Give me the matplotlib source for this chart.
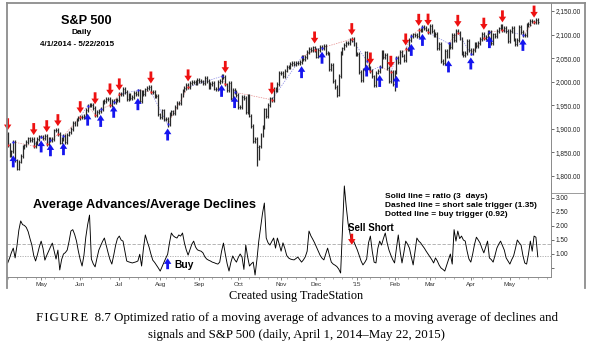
import matplotlib
matplotlib.use('Agg')
import matplotlib.pyplot as plt
from matplotlib.lines import Line2D
from matplotlib.transforms import offset_copy
import numpy as np

# ---------------- data ----------------
close = [
    # Apr 2014
    1885.5, 1890.9, 1888.8, 1865.1, 1845.0, 1852.0, 1872.2, 1833.1, 1815.7, 1830.6, 1843.0,
    1862.3, 1864.9, 1871.9, 1879.6, 1875.4, 1878.6, 1863.4, 1869.4, 1878.3, 1884.0,
    # May
    1883.7, 1881.1, 1884.7, 1867.7, 1878.2, 1875.6, 1878.5, 1896.7, 1897.5, 1888.5, 1870.9,
    1877.9, 1885.1, 1872.8, 1888.0, 1892.5, 1900.5, 1911.9, 1909.8, 1920.0, 1923.6,
    # Jun
    1925.0, 1924.2, 1927.9, 1940.5, 1949.4, 1951.3, 1950.8, 1943.9, 1930.1, 1936.2, 1937.8,
    1942.0, 1957.0, 1959.5, 1962.9, 1962.6, 1950.0, 1959.5, 1957.2, 1961.0, 1960.2,
    # Jul
    1973.3, 1974.6, 1985.4, 1977.7, 1963.7, 1972.8, 1964.7, 1967.6, 1977.1, 1973.3, 1981.6,
    1958.1, 1978.2, 1973.6, 1983.5, 1987.0, 1988.0, 1978.3, 1978.9, 1970.0, 1970.1, 1930.7,
    # Aug
    1925.2, 1939.0, 1920.2, 1920.2, 1909.6, 1931.6, 1936.9, 1933.8, 1946.7, 1955.2, 1955.1,
    1971.7, 1981.6, 1986.5, 1992.4, 1988.4, 1997.9, 2000.0, 2000.1, 1996.7, 2003.4,
    # Sep
    2002.3, 2000.7, 1997.7, 2007.7, 2001.5, 1988.4, 1995.7, 1997.5, 1985.5, 1984.1, 1999.0,
    2001.6, 2011.4, 2010.4, 1994.3, 1982.8, 1998.3, 1966.0, 1982.9, 1977.8, 1972.3,
    # Oct
    1946.2, 1946.2, 1967.9, 1964.8, 1935.1, 1968.9, 1928.2, 1906.1, 1874.7, 1877.7, 1862.5,
    1862.8, 1886.8, 1904.0, 1941.3, 1927.1, 1950.8, 1964.6, 1961.6, 1985.1, 1982.3, 1994.7, 2018.1,
    # Nov
    2017.8, 2012.1, 2023.6, 2031.2, 2031.9, 2038.3, 2039.7, 2038.3, 2039.3, 2039.8, 2041.3,
    2051.8, 2048.7, 2052.8, 2063.5, 2069.4, 2067.0, 2072.8, 2067.6,
    # Dec
    2053.4, 2066.6, 2074.3, 2071.9, 2075.4, 2060.3, 2059.8, 2026.1, 2035.3, 2002.3, 1989.6,
    1972.7, 2012.9, 2061.2, 2070.7, 2078.5, 2082.2, 2081.9, 2088.8, 2090.6, 2080.4, 2058.9,
    # Jan 2015
    2058.2, 2020.6, 2002.6, 2025.9, 2062.1, 2044.8, 2028.3, 2023.0, 2011.3, 1992.7, 2019.4,
    2022.6, 2032.1, 2063.2, 2051.8, 2057.1, 2029.6, 2002.2, 2021.3, 1995.0,
    # Feb
    2020.9, 2050.0, 2041.5, 2062.5, 2055.5, 2046.7, 2068.6, 2068.5, 2088.5, 2097.0, 2100.3,
    2099.7, 2097.5, 2110.3, 2109.7, 2115.5, 2113.9, 2110.7, 2104.5,
    # Mar
    2117.4, 2107.8, 2098.5, 2101.0, 2071.3, 2079.4, 2044.2, 2040.2, 2066.0, 2053.4, 2081.2,
    2074.3, 2099.5, 2089.3, 2108.1, 2104.4, 2091.5, 2061.1, 2056.2, 2061.0, 2086.2, 2067.9,
    # Apr
    2059.7, 2067.0, 2080.6, 2076.3, 2081.9, 2091.2, 2102.1, 2092.4, 2095.8, 2106.6, 2105.0,
    2081.2, 2100.4, 2097.3, 2108.0, 2112.9, 2117.7, 2108.9, 2114.8, 2106.9, 2085.5,
    # May
    2108.3, 2114.5, 2089.5, 2080.2, 2088.0, 2116.1, 2105.3, 2099.1, 2098.5, 2121.1, 2122.7,
    2129.2, 2127.8, 2125.9, 2130.8, 2126.1,
]

# intraday lows that stick out well below the closes
spike_low_idx = [8, 89, 137, 138, 180, 200, 211]
spike_low_val = [1814, 1905, 1821, 1835, 1968, 1988, 1981]

# ratio (3 days) from bar 3 onward
ratio_start = 3
ratio = [
    0.68, 0.85, 1.05, 1.21, 0.86, 1.30, 1.85, 2.18, 2.05, 2.02,
    1.95, 1.80, 1.55, 1.32, 0.95, 0.75, 0.98, 1.25, 1.46, 1.20,
    0.78, 0.95, 1.10, 1.25, 1.39, 1.10, 0.82, 1.14, 0.43, 0.80,
    1.00, 1.05, 1.14, 1.45, 1.82, 1.87, 1.70, 1.46, 1.10, 0.80,
    0.57, 0.95, 1.60, 2.05, 2.39, 0.82, 0.65, 0.54, 0.85, 1.14,
    1.30, 1.45, 1.57, 1.30, 1.04, 0.80, 0.64, 0.95, 1.30, 1.55,
    1.64, 1.50, 1.46, 1.10, 0.75, 0.72, 0.70, 0.68, 0.70, 0.72,
    0.75, 0.99, 0.57, 1.20, 1.68, 1.45, 1.25, 1.00, 0.78, 0.70,
    0.60, 0.50, 0.39, 0.55, 0.70, 0.85, 0.99, 1.40, 1.75, 1.65,
    1.60, 1.57, 1.68, 1.64, 1.75, 1.40, 1.15, 0.96, 1.15, 1.35,
    1.46, 1.25, 1.15, 1.12, 1.10, 1.04, 0.90, 0.82, 0.78, 0.75,
    0.71, 0.69, 0.66, 0.64, 0.71, 1.10, 1.39, 1.00, 0.65, 0.39,
    0.70, 0.93, 0.80, 0.71, 0.88, 1.00, 0.89, 0.45, 1.32, 0.90,
    0.57, 0.65, 0.71, 0.25, 0.80, 1.46, 1.95, 2.45, 2.82, 1.57,
    1.40, 1.32, 1.45, 1.57, 1.21, 1.57, 1.35, 1.10, 1.40, 1.20,
    0.95, 0.86, 0.82, 0.80, 0.79, 0.84, 0.89, 0.80, 0.71, 0.79,
    0.90, 1.10, 1.82, 1.65, 1.53, 1.40, 1.25, 1.10, 0.95, 0.85,
    0.79, 1.00, 1.21, 0.95, 0.71, 0.64, 0.60, 0.55, 0.46, 0.32,
    1.90, 3.43, 2.70, 2.10, 1.75, 1.39, 1.46, 1.30, 1.14, 0.95,
    0.75, 0.61, 0.70, 0.82, 1.40, 1.64, 1.10, 0.71, 0.68, 1.20,
    1.46, 1.32, 1.55, 1.75, 1.40, 1.14, 0.96, 0.80, 0.68, 1.20,
    1.68, 1.10, 0.68, 1.05, 1.46, 1.35, 1.21, 0.90, 0.61, 1.10,
    1.57, 1.46, 1.40, 1.30, 1.21, 1.10, 1.00, 0.90, 0.80, 0.68,
    0.86, 0.75, 0.60, 0.50, 0.45, 0.39, 0.60, 0.80, 1.00, 0.64,
    1.87, 1.46, 1.82, 1.55, 1.64, 1.50, 1.46, 1.10, 0.82, 0.71,
    1.00, 1.35, 1.60, 1.50, 1.39, 1.20, 1.04, 1.25, 1.46, 0.86,
    0.80, 0.71, 0.95, 1.21, 1.35, 1.46, 1.30, 1.14, 0.86, 0.75,
    0.64, 0.80, 0.93, 1.20, 1.50, 1.40, 1.32, 0.95, 0.68, 0.64,
    1.00, 1.46, 1.10, 1.64, 1.60, 0.90,
]

sell_idx = [3, 17, 24, 30, 42, 50, 58, 63, 80, 100, 120, 145, 168, 188, 198, 209, 217, 224, 229, 245, 259, 269, 286]
buy_idx = [6, 21, 26, 33, 46, 53, 60, 73, 89, 118, 125, 161, 172, 196, 203, 212, 220, 226, 240, 252, 262, 280]

month_labels = ['May', 'Jun', 'Jul', 'Aug', 'Sep', 'Oct', 'Nov', 'Dec', "'15", 'Feb', 'Mar', 'Apr', 'May']
month_start = [21, 42, 63, 85, 106, 127, 150, 169, 191, 211, 230, 252, 273]

price_ticks = [1800, 1850, 1900, 1950, 2000, 2050, 2100, 2150]
ratio_ticks = [0.5, 1.0, 1.5, 2.0, 2.5, 3.0]
ratio_tick_labels = ['', '1.00', '1.50', '2.00', '2.50', '3.00']
short_trigger = 1.35
buy_trigger = 0.92
ratio_buy_bar = 89
ratio_sell_bar = 188

# ---------------- figure ----------------
W, H = 593, 350
fig = plt.figure(figsize=(W / 100, H / 100), dpi=100)
fig.patch.set_facecolor('white')
SANS = ['Liberation Sans', 'DejaVu Sans']
SERIF = ['Liberation Serif', 'DejaVu Serif']

def fx(px):
    return px / W

def fy(py):
    return 1 - py / H

X0, X1 = 7, 551
ax = fig.add_axes([fx(X0), fy(193), (X1 - X0) / W, 190 / H])
ax2 = fig.add_axes([fx(X0), fy(277), (X1 - X0) / W, 94 / H])
for a in (ax, ax2):
    a.patch.set_visible(False)
    for s in ('left', 'top', 'bottom'):
        a.spines[s].set_visible(False)
    a.spines['right'].set_color('#8a8a8a')
    a.spines['right'].set_linewidth(0.7)
    a.yaxis.tick_right()
    a.tick_params(axis='y', labelsize=4.7, length=2, width=0.5, pad=1.2,
                  colors='#333333', labelcolor='#222222')

xlo = (X0 - 2.1) / 1.86
xhi = (X1 - 2.1) / 1.86
n = len(close)
xi = np.arange(n)
c = np.array(close)
prev = np.concatenate([[c[0]], c[:-1]])
lo = np.minimum(prev, c) - 4
hi = np.maximum(prev, c) + 4
for i, v in zip(spike_low_idx, spike_low_val):
    lo[i] = min(lo[i], v)

# price panel
ax.set_xlim(xlo, xhi)
ax.set_ylim(1800 - 17 / 0.4714, 1800 + 173 / 0.4714)
ax.vlines(xi, lo, hi, color='#2a2a2a', lw=0.9, zorder=2)
ax.hlines(c, xi, xi + 0.45, color='#111111', lw=0.5, zorder=2)
ax.set_xticks([])
ax.set_yticks(price_ticks)
ax.set_yticklabels([f'{t:,.2f}' for t in price_ticks], family=SANS)

# dashed line through the signal points
sig = sorted([(i, 's') for i in sell_idx] + [(i, 'b') for i in buy_idx])
for (i0, k0), (i1, k1) in zip(sig[:-1], sig[1:]):
    col = '#e58a8a' if k1 == 's' else '#8a8ae5'
    ax.plot([i0, i1], [c[i0], c[i1]], ls=(0, (2, 1.5)), lw=0.5, color=col, zorder=1)
ax.plot(sell_idx, c[sell_idx], ls='none', marker='s', ms=1.4, color='#ff2020', mew=0, zorder=3)
ax.plot(buy_idx, c[buy_idx], ls='none', marker='s', ms=1.4, color='#2020ff', mew=0, zorder=3)

arrow_kw = dict(arrowstyle='simple,head_width=0.85,head_length=0.65,tail_width=0.32',
                lw=0, shrinkA=0, shrinkB=0, mutation_scale=6.3)
tr_up = offset_copy(ax.transData, fig=fig, x=0, y=2, units='dots')
tr_dn = offset_copy(ax.transData, fig=fig, x=0, y=-2, units='dots')
for i in sell_idx:
    ax.annotate('', xy=(i, hi[i]), xycoords=tr_up, xytext=(0, 12), textcoords='offset pixels',
                arrowprops=dict(color='#ee1111', **arrow_kw), zorder=4)
for i in buy_idx:
    ax.annotate('', xy=(i, lo[i]), xycoords=tr_dn, xytext=(0, -12), textcoords='offset pixels',
                arrowprops=dict(color='#1515ee', **arrow_kw), zorder=4)

# ratio panel
ax2.set_xlim(xlo, xhi)
ax2.set_ylim(1 - 23 / 28, 1 + 71 / 28)
xr = np.arange(ratio_start, ratio_start + len(ratio))
ax2.axhline(short_trigger, color='#a8a8a8', lw=0.6, ls=(0, (4, 2)))
ax2.axhline(buy_trigger, color='#a8a8a8', lw=0.6, ls=(0, (1.5, 1.5)))
ax2.plot(xr, ratio, color='black', lw=0.65, zorder=3)
ax2.set_yticks(ratio_ticks)
ax2.set_yticklabels(ratio_tick_labels, family=SANS)
ax2.spines['bottom'].set_visible(True)
ax2.spines['bottom'].set_color('#8a8a8a')
ax2.spines['bottom'].set_linewidth(0.7)
ax2.set_xticks(month_start)
ax2.set_xticklabels(month_labels, family=SANS)
ax2.set_xticks(np.arange(3, 295, 5), minor=True)
ax2.tick_params(axis='x', which='major', labelsize=4.6, length=2, width=0.5, pad=1.5,
                colors='#555555', labelcolor='#333333')
ax2.tick_params(axis='x', which='minor', length=1.5, width=0.4, colors='#777777')

ax2.annotate('', xy=(ratio_buy_bar, 0.85), xytext=(0, -11), textcoords='offset pixels',
             arrowprops=dict(color='#1515ee', **arrow_kw), zorder=4)
ax2.annotate('', xy=(ratio_sell_bar, 1.33), xytext=(0, 11), textcoords='offset pixels',
             arrowprops=dict(color='#ee1111', **arrow_kw), zorder=4)

# ---------------- texts ----------------
fig.text(fx(86), fy(21), 'S&P 500', ha='center', va='center', fontsize=9.2, weight='bold', family=SANS)
fig.text(fx(81.5), fy(33), 'Daily', ha='center', va='center', fontsize=6.0, weight='bold', family=SANS)
fig.text(fx(77.5), fy(44), '4/1/2014 - 5/22/2015', ha='center', va='center', fontsize=5.8, weight='bold', family=SANS)
fig.text(fx(33), fy(205), 'Average Advances/Average Declines', ha='left', va='center', fontsize=9.2,
         weight='bold', family=SANS)
legend_lines = ['Solid line = ratio (3  days)',
                'Dashed line = short sale trigger (1.35)',
                'Dotted line = buy trigger (0.92)']
for k, t in enumerate(legend_lines):
    fig.text(fx(385), fy(197 + 9 * k), t, ha='left', va='center', fontsize=6.0, weight='bold', family=SANS)
fig.text(fx(348), fy(228), 'Sell Short', ha='left', va='center', fontsize=7.0, weight='bold', family=SANS)
fig.text(fx(174), fy(265), 'Buy', ha='left', va='center', fontsize=7.4, weight='bold', family=SANS)

fig.text(0.5, fy(296), 'Created using TradeStation', ha='center', va='center', fontsize=8.8, family=SERIF)
fig.text(0.5, fy(318), 'F\u200aI\u200aG\u200aU\u200aR\u200aE  8.7 Optimized ratio of a moving average of advances to a moving average of declines and',
         ha='center', va='center', fontsize=9.3, family=SERIF)
fig.text(0.5, fy(335), 'signals and S&P 500 (daily, April 1, 2014\u2013May 22, 2015)',
         ha='center', va='center', fontsize=9.3, family=SERIF)

# ---------------- frame ----------------
frame = dict(color='#8c8c8c', lw=1.3, transform=fig.transFigure)
fig.add_artist(Line2D([fx(7), fx(585)], [fy(3), fy(3)], **frame))
fig.add_artist(Line2D([fx(7), fx(7)], [fy(3), fy(288)], **frame))
fig.add_artist(Line2D([fx(585), fx(585)], [fy(3), fy(288)], **frame))
fig.add_artist(Line2D([fx(551), fx(585)], [fy(193), fy(193)], color='#8c8c8c', lw=0.6,
                      transform=fig.transFigure))

fig.savefig('out.png', dpi=100)
